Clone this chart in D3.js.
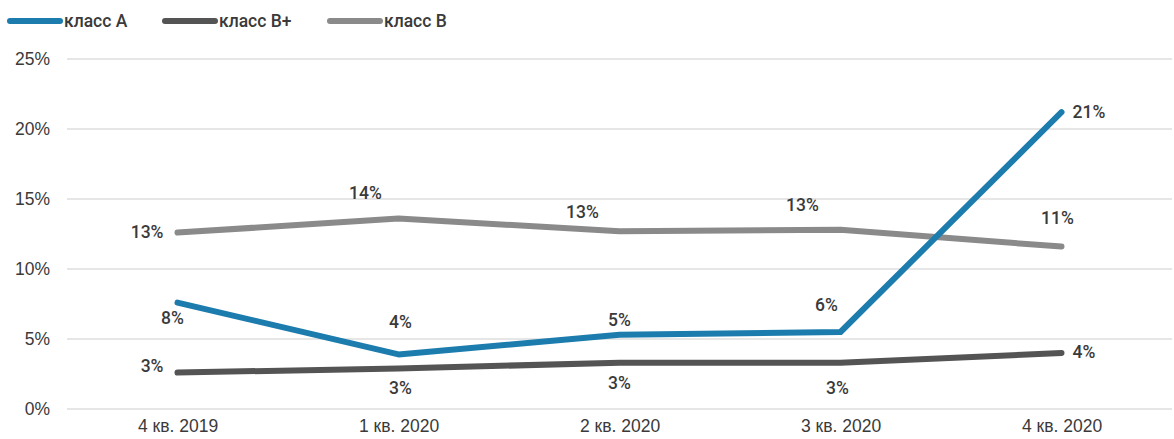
<!DOCTYPE html>
<html>
<head>
<meta charset="utf-8">
<script src="https://cdn.jsdelivr.net/npm/d3@7"></script>
<style>
  html, body { margin: 0; padding: 0; background: #fff; }
  svg { display: block; font-family: Roboto, 'Noto Sans', sans-serif; font-weight: 500; }
</style>
</head>
<body>
<svg></svg>
<script>
// data
const categories = ['4 кв. 2019', '1 кв. 2020', '2 кв. 2020', '3 кв. 2020', '4 кв. 2020'];
const seriesNames = ['класс А', 'класс В+', 'класс В'];
const classA = [7.6, 3.9, 5.3, 5.5, 21.2];
const classBplus = [2.6, 2.9, 3.3, 3.3, 4.0];
const classB = [12.6, 13.6, 12.7, 12.8, 11.6];
const labelsA = ['8%', '4%', '5%', '6%', '21%'];
const labelsBplus = ['3%', '3%', '3%', '3%', '4%'];
const labelsB = ['13%', '14%', '13%', '13%', '11%'];
const yTicks = [0, 5, 10, 15, 20, 25];

// label placement (offset from the point, in px)
const offA = [[-5, 15], [2, -32], [0, -15], [-14, -27], ['r', 0]];
const offBplus = [['l', -7], [2, 20], [0, 20], [-3, 25], ['r', -1]];
const offB = [['l', -1], [-33, -26], [-37, -19], [-38, -25], [-4, -29]];

const width = 1174;
const height = 439;
const colors = ['#1b7cad', '#545454', '#8a8a8a'];
const textColor = '#3a3a3a';
const fontSize = 17.5;

const svg = d3.select('svg').attr('width', width).attr('height', height);

const x = d3.scalePoint().domain(categories).range([67, 1172]).padding(0.5);
const y = d3.scaleLinear().domain([0, 25]).range([409, 59]);

// grid
svg.append('g')
  .selectAll('line')
  .data(yTicks)
  .enter()
  .append('line')
  .attr('x1', 67)
  .attr('x2', 1172)
  .attr('y1', (d) => y(d))
  .attr('y2', (d) => y(d))
  .attr('stroke', '#e6e6e6')
  .attr('stroke-width', 2);

// y axis
const yAxis = d3.axisLeft(y).tickValues(yTicks).tickFormat((d) => d + '%').tickSize(0).tickPadding(0);
const ya = svg.append('g').attr('transform', 'translate(50,0)').call(yAxis);
ya.select('.domain').remove();
ya.selectAll('text').attr('font-size', fontSize).attr('fill', textColor).attr('font-family', null);

// x axis
const xAxis = d3.axisBottom(x).tickSize(0).tickPadding(0);
const xa = svg.append('g').attr('transform', 'translate(0,420)').call(xAxis);
xa.select('.domain').remove();
xa.selectAll('text').attr('font-size', fontSize).attr('fill', textColor).attr('font-family', null);

const series = [
  { name: seriesNames[0], values: classA, labels: labelsA, off: offA, color: colors[0] },
  { name: seriesNames[1], values: classBplus, labels: labelsBplus, off: offBplus, color: colors[1] },
  { name: seriesNames[2], values: classB, labels: labelsB, off: offB, color: colors[2] },
];

const line = d3.line()
  .x((d, i) => x(categories[i]))
  .y((d) => y(d));

// draw in reverse so класс А is on top
svg.append('g')
  .selectAll('path')
  .data(series.slice().reverse())
  .enter()
  .append('path')
  .attr('d', (s) => line(s.values))
  .attr('fill', 'none')
  .attr('stroke', (s) => s.color)
  .attr('stroke-width', 6)
  .attr('stroke-linecap', 'round')
  .attr('stroke-linejoin', 'round');

// data labels
series.forEach((s) => {
  svg.append('g')
    .selectAll('text')
    .data(s.values)
    .enter()
    .append('text')
    .attr('font-size', fontSize)
    .attr('fill', textColor)
    .attr('dominant-baseline', 'central')
    .attr('text-anchor', (d, i) => (s.off[i][0] === 'l' ? 'end' : s.off[i][0] === 'r' ? 'start' : 'middle'))
    .attr('x', (d, i) => {
      const px = x(categories[i]);
      const o = s.off[i][0];
      if (o === 'l') return px - 14;
      if (o === 'r') return px + 11;
      return px + o;
    })
    .attr('y', (d, i) => y(d) + s.off[i][1])
    .text((d, i) => s.labels[i]);
});

// legend
const legendX = [10, 165, 330];
const legend = svg.append('g')
  .selectAll('g')
  .data(series)
  .enter()
  .append('g')
  .attr('transform', (s, i) => `translate(${legendX[i]},21)`);

legend.append('line')
  .attr('x1', 0)
  .attr('x2', 50)
  .attr('stroke', (s) => s.color)
  .attr('stroke-width', 6)
  .attr('stroke-linecap', 'round');

legend.append('text')
  .attr('x', 54)
  .attr('dominant-baseline', 'central')
  .attr('font-size', fontSize)
  .attr('fill', textColor)
  .text((s) => s.name);
</script>
</body>
</html>
